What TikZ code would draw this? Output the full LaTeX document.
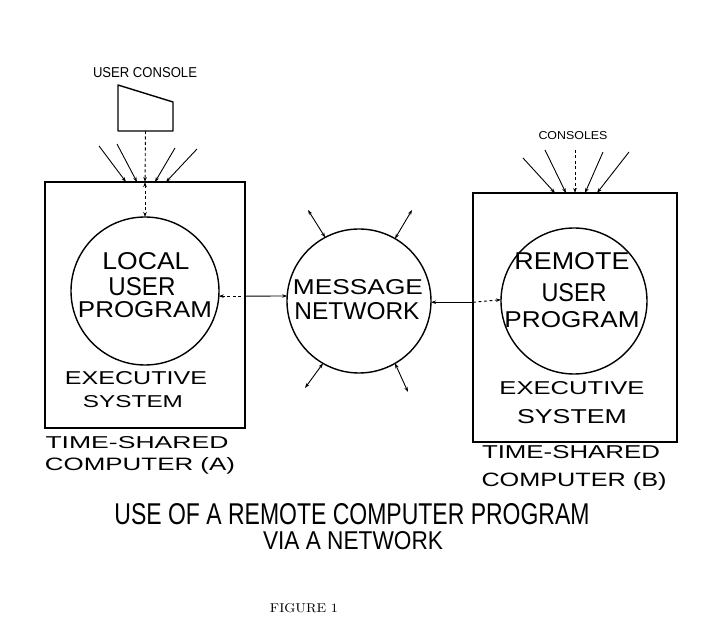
\documentclass[tikz,border=0pt]{standalone}
\usepackage{fontspec}
\setsansfont{Liberation Sans}
\usepackage{graphicx}
\usetikzlibrary{arrows.meta}
% lettering stretched to a given width and cap height (in pt)
\newcommand{\lettering}[3]{\resizebox{#1pt}{#2pt}{#3}}
\begin{document}
\begin{tikzpicture}[x=1pt,y=-1pt,
  frame/.style={draw, line width=1.6pt, rectangle, inner sep=0pt, outer sep=0pt},
  disc/.style={draw, line width=1.4pt, circle, inner sep=0pt, outer sep=0pt},
  word/.style={anchor=base, inner sep=0pt, outer sep=0pt, font=\sffamily},
  caption/.style={anchor=base, inner sep=0pt, outer sep=0pt, font=\rmfamily},
  feed/.style={line width=0.9pt, -{Stealth[length=5pt,width=3.5pt]}},
  both/.style={line width=0.9pt, {Stealth[length=5pt,width=3.5pt]}-{Stealth[length=5pt,width=3.5pt]}},
  back/.style={line width=0.9pt, {Stealth[length=5pt,width=3.5pt]}-},
  broken/.style={dash pattern=on 3pt off 2.5pt}
]
\useasboundingbox (0,0) rectangle (702,644);

% ---- computer A ----
\node[frame, minimum width=200pt, minimum height=246pt] (boxA) at (145,305) {};
\node[disc, minimum size=148pt] (circA) at (145,291) {};

% user console
\draw[line width=1.4pt, line join=round] (118,85) -- (173,102) -- (173,131) -- (118,131) -- cycle;
\coordinate (conA) at (145.5,131);
\node[word] (conAlbl) at (145,78) {\lettering{104}{10}{USER CONSOLE}};

\draw[feed, broken] (conA) -- (boxA.north);
\draw[both, broken] (boxA.north) -- (circA.north);
\coordinate (a1) at (99,146);
\coordinate (a2) at (117,144);
\coordinate (a3) at (175,148);
\coordinate (a4) at (197,149);
\draw[feed] (a1) -- ([xshift=-19pt]boxA.north);
\draw[feed] (a2) -- ([xshift=-8pt]boxA.north);
\draw[feed] (a3) -- ([xshift=10pt]boxA.north);
\draw[feed] (a4) -- ([xshift=21pt]boxA.north);

% ---- message network ----
\node[disc, minimum size=144pt] (net) at (359,301) {};

% ---- computer B ----
\node[frame, minimum width=204pt, minimum height=249pt] (boxB) at (575,317.5) {};
\node[disc, minimum size=146pt] (circB) at (574,301) {};
\node[word] (conBlbl) at (573,140) {\lettering{69}{8}{CONSOLES}};
\coordinate (b1) at (523,158);
\coordinate (b2) at (545,150);
\coordinate (b3) at (575,150);
\coordinate (b4) at (603,152);
\coordinate (b5) at (629,152);
\draw[feed] (b1) -- ([xshift=-20pt]boxB.north);
\draw[feed] (b2) -- ([xshift=-9pt]boxB.north);
\draw[feed, broken] (b3) -- (boxB.north);
\draw[feed] (b4) -- ([xshift=10pt]boxB.north);
\draw[feed] (b5) -- ([xshift=22pt]boxB.north);

% ---- links through the network ----
\coordinate (gateA) at (boxA.east |- circA.-4);
\draw[back, broken] (circA.-4) -- (gateA);
\draw[feed] (gateA) -- (net.176);
\coordinate (gateB) at (boxB.west |- net.-1);
\draw[back] (net.-1) -- (gateB);
\draw[feed, broken] (gateB) -- (circB.179);

\coordinate (n1) at (308,210);
\coordinate (n2) at (412,210);
\coordinate (n3) at (305,388);
\coordinate (n4) at (408,392);
\draw[both] (net.118) -- (n1);
\draw[both] (net.60) -- (n2);
\draw[both] (net.240) -- (n3);
\draw[both] (net.-60) -- (n4);

% ---- lettering ----
\node[word] (locA1) at (146,270) {\lettering{87}{17}{LOCAL}};
\node[word] (locA2) at (142,296) {\lettering{67}{18}{USER}};
\node[word] (locA3) at (145,318) {\lettering{134}{16}{PROGRAM}};

\node[word] (net1) at (358,295) {\lettering{130}{15}{MESSAGE}};
\node[word] (net2) at (357,320) {\lettering{125}{17}{NETWORK}};

\node[word] (remB1) at (572,270) {\lettering{115}{17}{REMOTE}};
\node[word] (remB2) at (574,302) {\lettering{65}{18}{USER}};
\node[word] (remB3) at (572,328) {\lettering{135}{16}{PROGRAM}};

\node[word] (exeA1) at (136,385) {\lettering{142}{13}{EXECUTIVE}};
\node[word] (exeA2) at (133,408) {\lettering{100}{12}{SYSTEM}};
\node[word] (exeB1) at (572,395) {\lettering{145}{13}{EXECUTIVE}};
\node[word] (exeB2) at (572,424) {\lettering{110}{14}{SYSTEM}};

\node[word] (tsA1) at (137,449) {\lettering{183}{12}{TIME-SHARED}};
\node[word] (tsA2) at (140,471) {\lettering{190}{13}{COMPUTER (A)}};
\node[word] (tsB1) at (571,458) {\lettering{178}{13}{TIME-SHARED}};
\node[word] (tsB2) at (574,486) {\lettering{185}{14}{COMPUTER (B)}};

\node[word] (title1) at (352,524) {\lettering{475}{21}{USE OF A REMOTE COMPUTER PROGRAM}};
\node[word] (title2) at (353,549) {\lettering{180}{18}{VIA A NETWORK}};
\node[caption] (fig) at (304,612) {\lettering{68}{9}{FIGURE 1}};
\end{tikzpicture}
\end{document}
